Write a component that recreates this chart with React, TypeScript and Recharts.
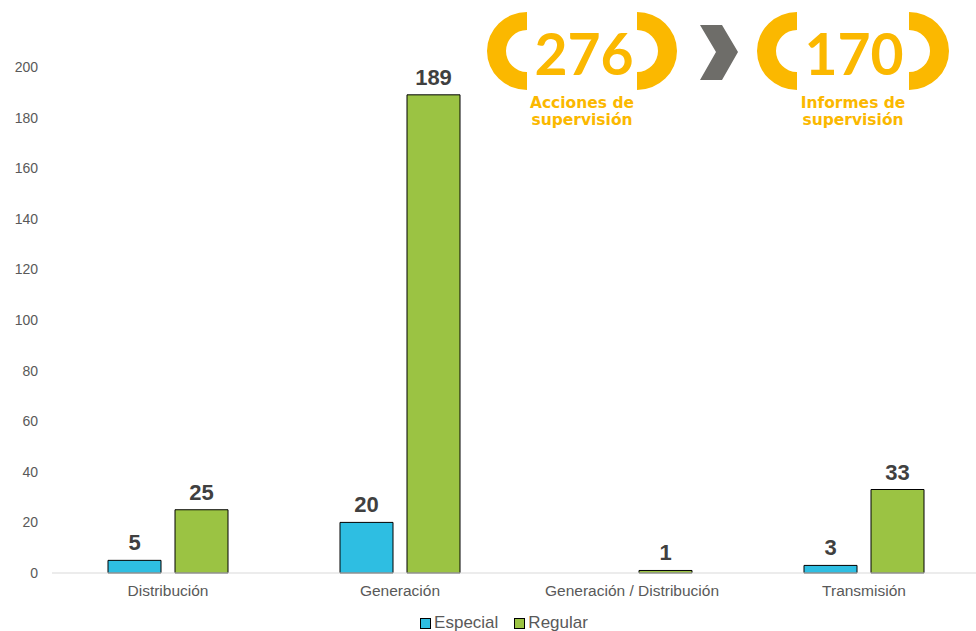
import { Bar, BarChart, LabelList, Legend, XAxis, YAxis } from "recharts"

const categories = ["Distribución", "Generación", "Generación / Distribución", "Transmisión"]
const especial = [5, 20, null, 3]
const regular = [25, 189, 1, 33]
const yTicks = [0, 20, 40, 60, 80, 100, 120, 140, 160, 180, 200]

const data = categories.map((name, i) => ({ name, Especial: especial[i], Regular: regular[i] }))

const BLUE = "#2EBEE2"
const GREEN = "#9BC343"
const ORANGE = "#FBB800"

function LegendBox() {
  const items = [
    { label: "Especial", color: BLUE },
    { label: "Regular", color: GREEN },
  ]
  return (
    <div style={{ display: "flex", justifyContent: "center", gap: 16, fontFamily: "Liberation Sans, Arial", fontSize: 17, color: "#595959", paddingLeft: 28, marginTop: 10 }}>
      {items.map((it) => (
        <div key={it.label} style={{ display: "flex", alignItems: "center", gap: 3 }}>
          <span style={{ width: 9, height: 9, background: it.color, border: "1px solid #000", display: "inline-block" }} />
          <span>{it.label}</span>
        </div>
      ))}
    </div>
  )
}

function Paren({ x, flip }: { x: number; flip?: boolean }) {
  const d = `M ${x} 12 A 40 39 0 0 ${flip ? 1 : 0} ${x} 90 L ${x} 72 A 21 21 0 0 ${flip ? 0 : 1} ${x} 30 Z`
  return <path d={d} fill={ORANGE} />
}

function Badges() {
  const font = "Lato, 'Open Sans', sans-serif"
  const small = "'DejaVu Sans', sans-serif"
  return (
    <svg width={976} height={140} style={{ position: "absolute", left: 0, top: 0, pointerEvents: "none" }}>
      <Paren x={527} />
      <text x={584} y={75} textAnchor="middle" fontFamily={font} fontWeight={700} fontSize={57} fill={ORANGE}>276</text>
      <Paren x={637} flip />
      <path d="M 700 25 L 722 25 L 738 52 L 722 80 L 700 80 L 716 52 Z" fill="#6E6D69" />
      <Paren x={797} />
      <text x={854} y={75} textAnchor="middle" fontFamily={font} fontWeight={700} fontSize={57} fill={ORANGE}>170</text>
      <Paren x={909} flip />
      <text x={582} y={108} textAnchor="middle" fontFamily={small} fontWeight={700} fontSize={15.5} fill={ORANGE}>Acciones de</text>
      <text x={582} y={125} textAnchor="middle" fontFamily={small} fontWeight={700} fontSize={15.5} fill={ORANGE}>supervisión</text>
      <text x={853} y={108} textAnchor="middle" fontFamily={small} fontWeight={700} fontSize={15.5} fill={ORANGE}>Informes de</text>
      <text x={853} y={125} textAnchor="middle" fontFamily={small} fontWeight={700} fontSize={15.5} fill={ORANGE}>supervisión</text>
    </svg>
  )
}

export default function App() {
  const labelStyle = { fontFamily: "Liberation Sans, Arial", fontSize: 22, fontWeight: 700, fill: "#404040" }
  return (
    <div style={{ position: "absolute", left: 0, top: 0, width: 976, height: 631, overflow: "hidden", background: "#fff" }}>
      <BarChart width={980} height={631} data={data} margin={{ top: 67, right: 0, bottom: 0, left: 0 }} barSize={53} barGap={14}>
        <XAxis
          dataKey="name"
          axisLine={{ stroke: "#D9D9D9" }}
          tickLine={false}
          height={30}
          tick={{ fontFamily: "Liberation Sans, Arial", fontSize: 15.5, fill: "#595959" }}
          tickMargin={6}
        />
        <YAxis
          width={52}
          domain={[0, 200]}
          ticks={yTicks}
          axisLine={false}
          tickLine={false}
          tickMargin={8}
          tick={{ fontFamily: "Liberation Sans, Arial", fontSize: 14, fill: "#595959" }}
        />
        <Legend verticalAlign="bottom" height={28} content={() => <LegendBox />} />
        <Bar dataKey="Especial" fill={BLUE} stroke="#000" strokeWidth={1} isAnimationActive={false}>
          <LabelList dataKey="Especial" position="top" offset={10} style={labelStyle} />
        </Bar>
        <Bar dataKey="Regular" fill={GREEN} stroke="#000" strokeWidth={1} isAnimationActive={false}>
          <LabelList dataKey="Regular" position="top" offset={10} style={labelStyle} />
        </Bar>
      </BarChart>
      <Badges />
    </div>
  )
}
